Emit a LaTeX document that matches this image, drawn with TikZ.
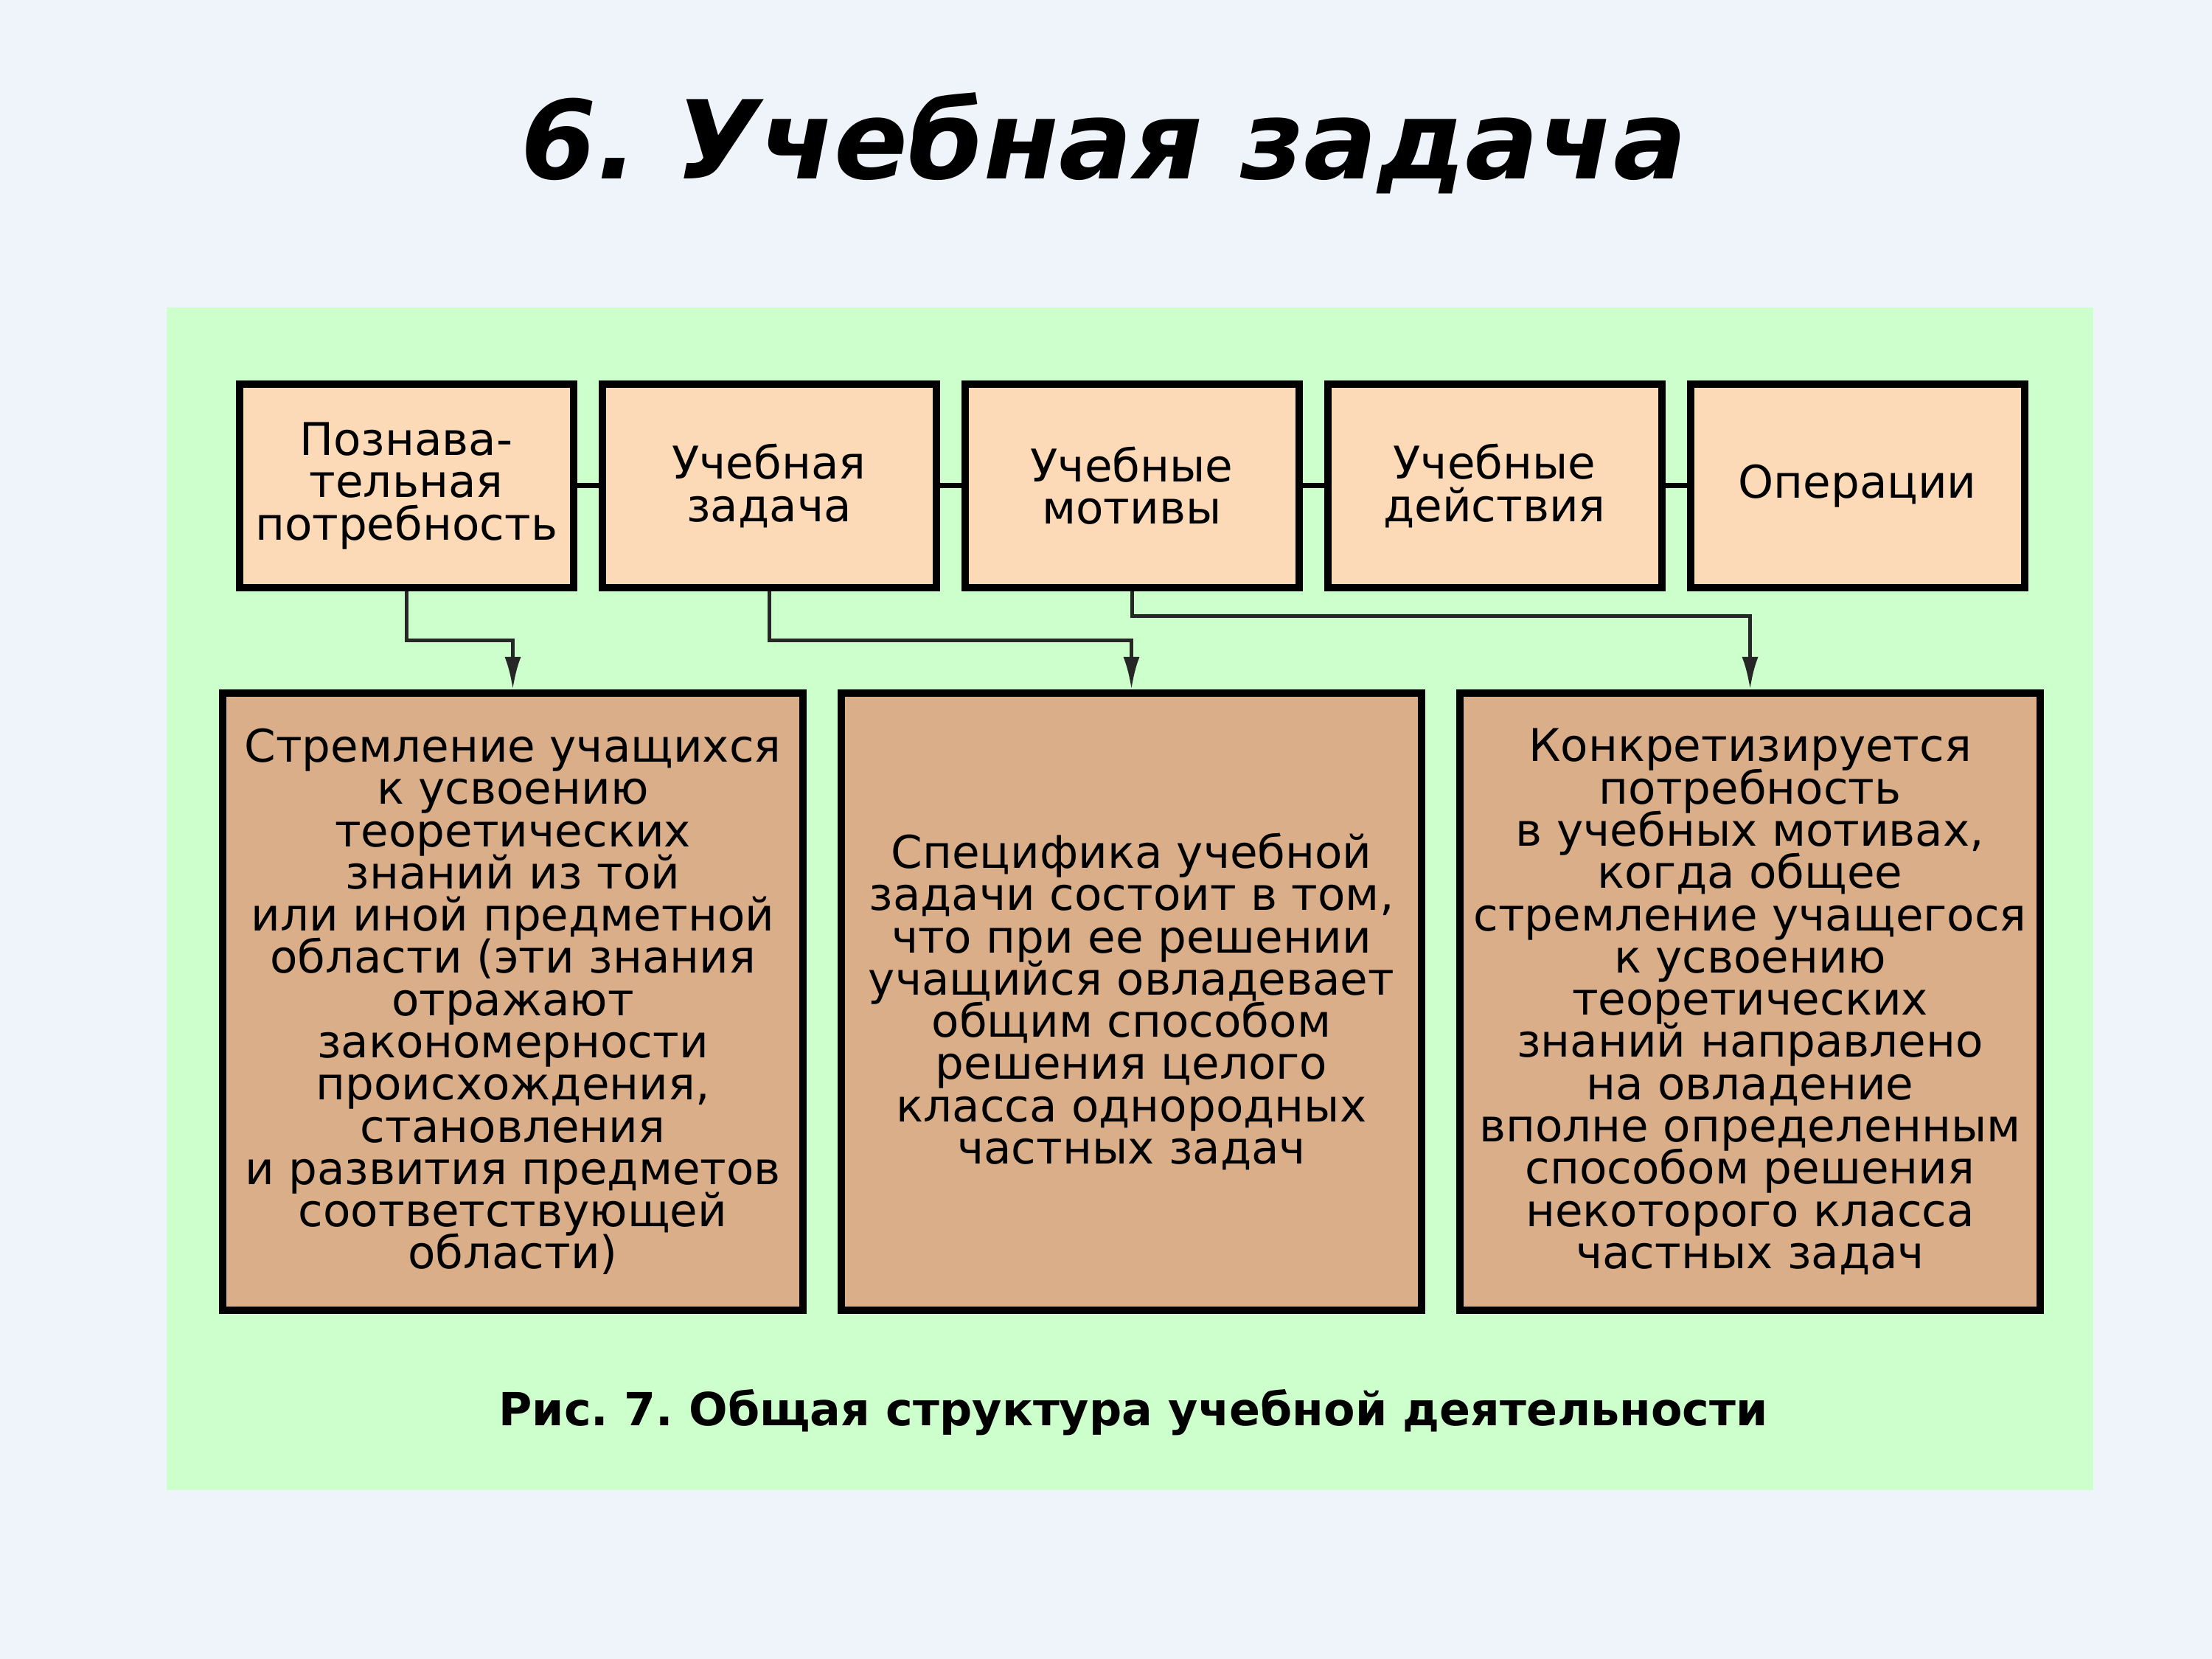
\documentclass[tikz,border=0pt]{standalone}
\usepackage{fontspec}
\setmainfont{DejaVu Sans}
\frenchspacing
\usetikzlibrary{arrows.meta,positioning}
\definecolor{pagebg}{RGB}{239,244,251}
\definecolor{panel}{RGB}{204,255,204}
\definecolor{peach}{RGB}{252,217,183}
\definecolor{tan}{RGB}{217,174,137}
\newcommand{\boxfont}{\fontsize{17.4}{16.3}\selectfont\lineskiplimit=-20pt\relax}

\begin{document}
\begin{tikzpicture}[>=Latex,
                every node/.append style={align=center, font=\boxfont},
                topbox/.style={draw, line width=0.1cm, fill=peach, inner sep=0pt,
                               minimum width=4.53cm, minimum height=2.76cm},
                lowbox/.style={draw, line width=0.1cm, fill=tan, inner sep=0pt,
                               minimum width=7.87cm, minimum height=8.37cm},
                link/.style={line width=0.07cm},
                feed/.style={->, line width=0.05cm, black!85, >={Latex[length=0.44cm,width=0.22cm]}}]

\useasboundingbox (0,0) rectangle (30,-22.5);
\fill[pagebg] (0,0) rectangle (30,-22.5);
\fill[panel] (2.26,-4.17) rectangle (28.39,-20.21);

\node[anchor=base, font=\fontsize{42}{50}\selectfont\bfseries\itshape] (title) at (14.97,-2.43) {6. Учебная задача};

% top row
\node[topbox] (need) at (5.51,-6.59) {Познава-\\тельная\\потребность};
\node[topbox, right=0.29cm of need] (task) {Учебная\\задача};
\node[topbox, right=0.29cm of task] (motive) {Учебные\\мотивы};
\node[topbox, right=0.29cm of motive] (act) {Учебные\\действия};
\node[topbox, right=0.29cm of act] (oper) {Операции};

\draw[link] (need) -- (task) (task) -- (motive) (motive) -- (act) (act) -- (oper);

% lower row
\node[lowbox] (strive) at (6.955,-13.585) {Стремление учащихся\\к усвоению\\теоретических\\знаний из той\\или иной предметной\\области (эти знания\\отражают\\закономерности\\происхождения,\\становления\\и развития предметов\\соответствующей\\области)};
\node[lowbox, right=0.42cm of strive] (spec) {Специфика учебной\\задачи состоит в том,\\что при ее решении\\учащийся овладевает\\общим способом\\решения целого\\класса однородных\\частных задач};
\node[lowbox, right=0.42cm of spec] (concr) {Конкретизируется\\потребность\\в учебных мотивах,\\когда общее\\стремление учащегося\\к усвоению\\теоретических\\знаний направлено\\на овладение\\вполне определенным\\способом решения\\некоторого класса\\частных задач};

\draw[feed] (need.south) -- ++(0,-0.67) -| (strive.north);
\draw[feed] (task.south) -- ++(0,-0.67) -| (spec.north);
\draw[feed] (motive.south) -- ++(0,-0.34) -| (concr.north);

\node[anchor=base, font=\fontsize{17.6}{20}\selectfont\bfseries] (caption) at (15.37,-19.33) {Рис. 7. Общая структура учебной деятельности};

\end{tikzpicture}
\end{document}
